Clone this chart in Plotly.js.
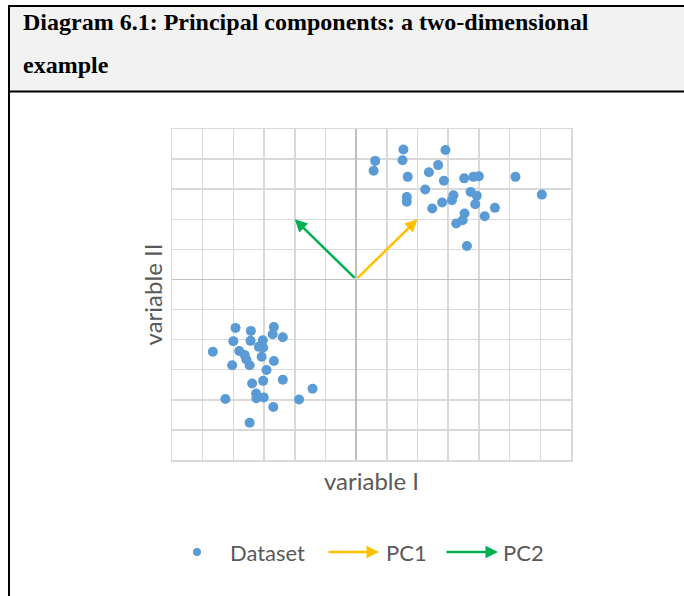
<!DOCTYPE html>
<html>
<head>
<meta charset="utf-8">
<script src="https://cdn.plot.ly/plotly-3.0.1.min.js"></script>
<style>html,body{margin:0;padding:0;background:#fff;}#chart{width:684px;height:596px;}</style>
</head>
<body>
<div id="chart"></div>
<script>
// ---- data ----
var titleLine1 = "Diagram 6.1: Principal components: a two-dimensional";
var titleLine2 = "example";
var xTitle = "variable I";
var yTitle = "variable II";
var legendNames = ["Dataset", "PC1", "PC2"];

var clusterAX = [0.62,0.57,1.54,1.51,1.68,2.91,2.67,2.37,2.86,2.25,1.65,1.65,2.48,2.80,3.17,3.12,3.52,3.82,4.00,3.73,3.93,3.88,4.52,4.19,3.53,3.47,3.26,3.61,5.19,6.05];
var clusterAY = [3.94,3.61,4.32,3.96,3.41,4.30,3.80,3.56,3.28,2.99,2.74,2.58,2.36,2.56,2.80,2.63,3.36,3.41,3.43,2.91,2.78,2.50,2.38,2.10,2.19,1.97,1.86,1.11,3.41,2.82];
var clusterBX = [-3.93,-3.43,-2.68,-2.72,-2.39,-4.00,-3.44,-3.04,-3.17,-3.03,-4.67,-3.81,-3.63,-3.58,-3.47,-4.04,-3.08,-2.68,-2.92,-3.39,-3.03,-2.39,-1.42,-3.26,-3.25,-3.01,-4.26,-1.86,-2.70,-3.47];
var clusterBY = [-1.61,-1.71,-1.58,-1.82,-1.92,-2.05,-2.04,-2.02,-2.24,-2.26,-2.40,-2.38,-2.51,-2.66,-2.85,-2.85,-2.57,-2.71,-3.01,-3.46,-3.37,-3.33,-3.63,-3.79,-3.95,-3.92,-3.97,-3.99,-4.24,-4.76];
var pcOrigin = [0, 0];
var pc1 = [2, 2];
var pc2 = [-2, 2];
var xRange = [-6, 7];
var yRange = [-6, 5];

// ---- layout geometry (pixels) ----
var W = 684, H = 596;
var L = 172, R = 571, T = 129, B = 460;
function px(x){ return (x - L) / (R - L); }
function py(y){ return (B - y) / (B - T); }

var textColor = "#595959";
var sansFont = "Lato, 'Open Sans', sans-serif";
var serifFont = "'Liberation Serif', 'Times New Roman', serif";
var colDataset = "#5B9BD5", colPC1 = "#FFC000", colPC2 = "#00B050";

var dataX = clusterAX.concat(clusterBX);
var dataY = clusterAY.concat(clusterBY);

var traces = [{
  type: "scatter", mode: "markers", name: legendNames[0],
  x: dataX, y: dataY,
  marker: {color: colDataset, size: 10},
  showlegend: false, hoverinfo: "x+y"
}];

function arrowAnn(vec, color){
  return {xref: "x", yref: "y", axref: "x", ayref: "y",
    x: pcOrigin[0] + vec[0], y: pcOrigin[1] + vec[1], ax: pcOrigin[0], ay: pcOrigin[1],
    text: "", showarrow: true, arrowhead: 2, arrowsize: 1, arrowwidth: 2.5,
    arrowcolor: color, standoff: 0, startstandoff: 0};
}

var legendY = 552;
var annotations = [
  arrowAnn(pc1, colPC1),
  arrowAnn(pc2, colPC2),
  {xref: "paper", yref: "paper", x: px(21), y: py(22), xanchor: "left", yanchor: "middle",
   text: "<b>" + titleLine1 + "</b>", showarrow: false,
   font: {family: serifFont, size: 24, color: "#000"}},
  {xref: "paper", yref: "paper", x: px(21), y: py(65), xanchor: "left", yanchor: "middle",
   text: "<b>" + titleLine2 + "</b>", showarrow: false,
   font: {family: serifFont, size: 24, color: "#000"}},
  {xref: "paper", yref: "paper", x: px(228), y: py(legendY), xanchor: "left", yanchor: "middle",
   text: legendNames[0], showarrow: false, font: {family: sansFont, size: 22, color: textColor}},
  {xref: "paper", yref: "paper", x: px(384), y: py(legendY), xanchor: "left", yanchor: "middle",
   text: legendNames[1], showarrow: false, font: {family: sansFont, size: 22, color: textColor}},
  {xref: "paper", yref: "paper", x: px(501), y: py(legendY), xanchor: "left", yanchor: "middle",
   text: legendNames[2], showarrow: false, font: {family: sansFont, size: 22, color: textColor}},
  {xref: "paper", yref: "paper", x: px(379), y: py(legendY), ax: -52, ay: 0,
   text: "", showarrow: true, arrowhead: 2, arrowsize: 1, arrowwidth: 2.5, arrowcolor: colPC1, standoff: 0},
  {xref: "paper", yref: "paper", x: px(498), y: py(legendY), ax: -53, ay: 0,
   text: "", showarrow: true, arrowhead: 2, arrowsize: 1, arrowwidth: 2.5, arrowcolor: colPC2, standoff: 0}
];

var shapes = [
  {type: "rect", xref: "paper", yref: "paper", x0: px(9), x1: px(W + 2), y0: py(91), y1: py(6),
   fillcolor: "#F2F2F2", line: {width: 0}, layer: "below"},
  {type: "line", xref: "paper", yref: "paper", x0: px(8), x1: px(W + 2), y0: py(6), y1: py(6),
   line: {color: "#000", width: 2}},
  {type: "line", xref: "paper", yref: "paper", x0: px(8), x1: px(W + 2), y0: py(91.5), y1: py(91.5),
   line: {color: "#000", width: 2}},
  {type: "line", xref: "paper", yref: "paper", x0: px(9), x1: px(9), y0: py(5), y1: py(H + 2),
   line: {color: "#000", width: 2}},
  {type: "circle", xref: "paper", yref: "paper", x0: px(193), x1: px(201), y0: py(legendY - 4), y1: py(legendY + 4),
   fillcolor: colDataset, line: {width: 0}}
];

var axisCommon = {
  dtick: 1, tick0: 0, showticklabels: false, ticks: "",
  showgrid: true, gridcolor: "#D9D9D9", gridwidth: 1.5,
  zeroline: true, zerolinecolor: "#BFBFBF", zerolinewidth: 1.5,
  showline: true, linecolor: "#D9D9D9", linewidth: 1.5, mirror: true,
  fixedrange: true
};

var layout = {
  width: W, height: H,
  margin: {l: L, r: W - R, t: T, b: H - B, pad: 0},
  paper_bgcolor: "#FFFFFF", plot_bgcolor: "#FFFFFF",
  showlegend: false,
  xaxis: Object.assign({}, axisCommon, {range: xRange,
    title: {text: xTitle, standoff: 12, font: {family: sansFont, size: 24, color: textColor}}}),
  yaxis: Object.assign({}, axisCommon, {range: yRange,
    title: {text: yTitle, standoff: 1, font: {family: sansFont, size: 24, color: textColor}}}),
  annotations: annotations,
  shapes: shapes
};

Plotly.newPlot("chart", traces, layout, {displayModeBar: false, staticPlot: true});
</script>
</body>
</html>
